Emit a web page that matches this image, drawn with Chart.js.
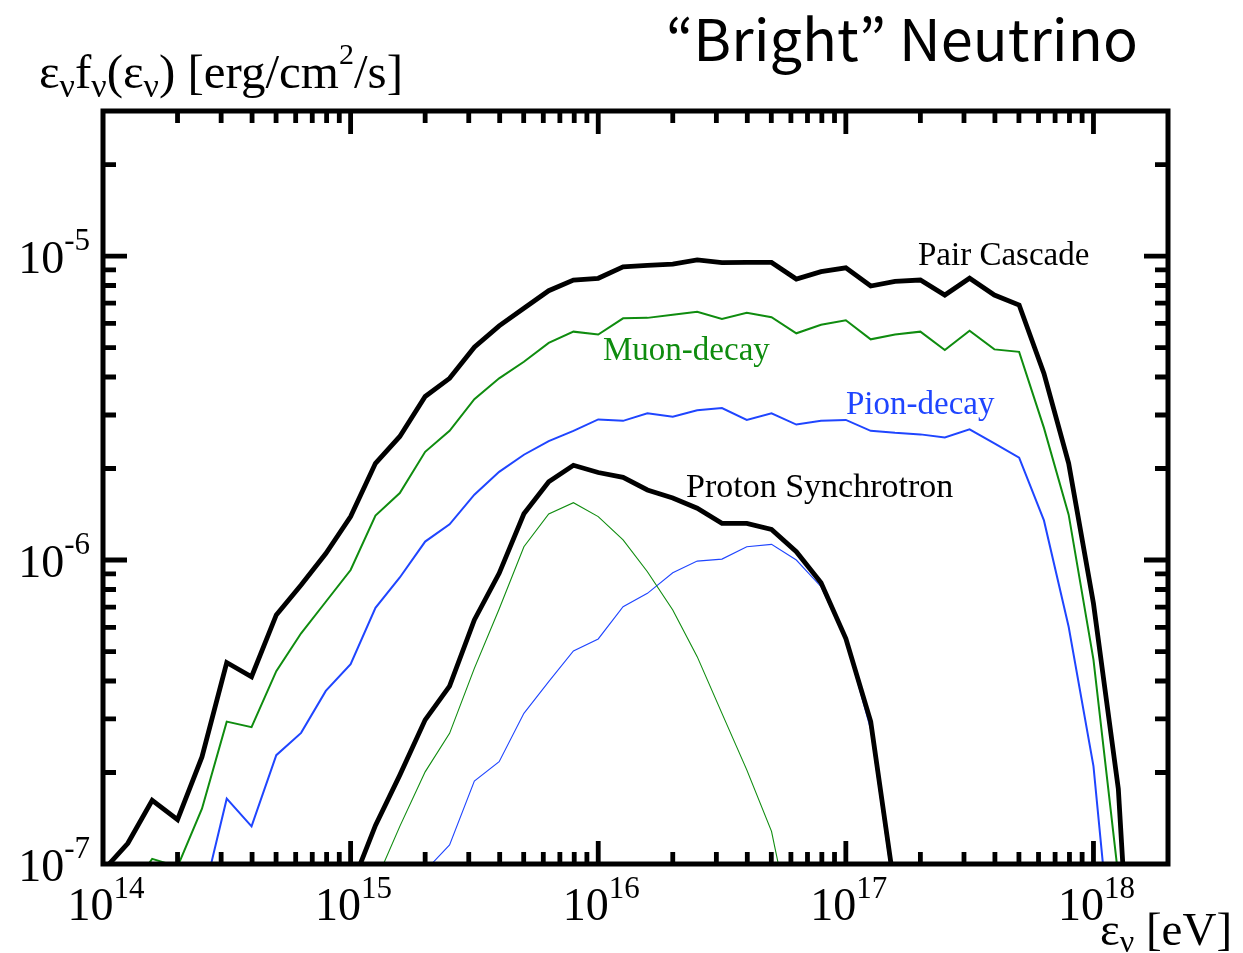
<!DOCTYPE html>
<html>
<head>
<meta charset="utf-8">
<script src="https://cdn.jsdelivr.net/npm/chart.js@4.4.1/dist/chart.umd.min.js"></script>
<style>
  html, body { margin: 0; padding: 0; background: #ffffff; }
  #wrap { position: relative; width: 1243px; height: 953px; }
</style>
</head>
<body>
<div id="wrap"><canvas id="c"></canvas></div>
<script>
// Neutrino energy grid [eV], 0.1-decade steps
const energy = [
  1.00e14, 1.26e14, 1.58e14, 2.00e14, 2.51e14, 3.16e14, 3.98e14, 5.01e14, 6.31e14, 7.94e14,
  1.00e15, 1.26e15, 1.58e15, 2.00e15, 2.51e15, 3.16e15, 3.98e15, 5.01e15, 6.31e15, 7.94e15,
  1.00e16, 1.26e16, 1.58e16, 2.00e16, 2.51e16, 3.16e16, 3.98e16, 5.01e16, 6.31e16, 7.94e16,
  1.00e17, 1.26e17, 1.58e17, 2.00e17, 2.51e17, 3.16e17, 3.98e17, 5.01e17, 6.31e17, 7.94e17,
  1.00e18, 1.26e18, 1.58e18
];

// Pair cascade total and its muon / pion decay parts [erg/cm^2/s]
const pairCascade = [
  9.5e-8, 1.17e-7, 1.62e-7, 1.40e-7, 2.25e-7, 4.6e-7, 4.13e-7, 6.6e-7, 8.27e-7, 1.05e-6,
  1.39e-6, 2.08e-6, 2.55e-6, 3.45e-6, 3.96e-6, 5.01e-6, 5.89e-6, 6.73e-6, 7.69e-6, 8.34e-6,
  8.45e-6, 9.22e-6, 9.32e-6, 9.41e-6, 9.71e-6, 9.51e-6, 9.53e-6, 9.53e-6, 8.40e-6, 8.88e-6,
  9.15e-6, 7.97e-6, 8.26e-6, 8.34e-6, 7.44e-6, 8.45e-6, 7.44e-6, 6.90e-6, 4.11e-6, 2.08e-6,
  7.2e-7, 1.77e-7, 8e-9
];
const muonDecay = [
  6e-8, 8e-8, 1.04e-7, 9.8e-8, 1.52e-7, 2.94e-7, 2.82e-7, 4.31e-7, 5.74e-7, 7.29e-7,
  9.27e-7, 1.40e-6, 1.66e-6, 2.27e-6, 2.66e-6, 3.38e-6, 3.96e-6, 4.49e-6, 5.18e-6, 5.64e-6,
  5.52e-6, 6.24e-6, 6.26e-6, 6.41e-6, 6.56e-6, 6.21e-6, 6.51e-6, 6.29e-6, 5.57e-6, 5.94e-6,
  6.15e-6, 5.32e-6, 5.52e-6, 5.64e-6, 4.91e-6, 5.68e-6, 4.93e-6, 4.84e-6, 2.72e-6, 1.41e-6,
  4.7e-7, 9.1e-8, null
];
const pionDecay = [
  3.5e-8, 3.7e-8, 5.8e-8, 4.2e-8, 7.5e-8, 1.64e-7, 1.33e-7, 2.28e-7, 2.70e-7, 3.71e-7,
  4.54e-7, 6.96e-7, 8.76e-7, 1.15e-6, 1.31e-6, 1.64e-6, 1.95e-6, 2.22e-6, 2.46e-6, 2.66e-6,
  2.90e-6, 2.87e-6, 3.04e-6, 2.96e-6, 3.11e-6, 3.16e-6, 2.89e-6, 3.04e-6, 2.79e-6, 2.87e-6,
  2.89e-6, 2.66e-6, 2.62e-6, 2.59e-6, 2.53e-6, 2.69e-6, 2.42e-6, 2.17e-6, 1.35e-6, 6.03e-7,
  2.1e-7, 3e-8, null
];

// Proton synchrotron total and its muon / pion decay parts (start index into energy grid)
const protonSyncStart = 10;
const protonSync = [
  8.3e-8, 1.34e-7, 1.96e-7, 2.98e-7, 3.85e-7, 6.35e-7, 9.04e-7, 1.42e-6, 1.81e-6, 2.05e-6,
  1.94e-6, 1.87e-6, 1.70e-6, 1.60e-6, 1.48e-6, 1.32e-6, 1.32e-6, 1.26e-6, 1.065e-6, 8.42e-7,
  5.52e-7, 2.94e-7, 8.1e-8
];
const protonMuonStart = 11;
const protonMuon = [
  8.7e-8, 1.33e-7, 2.01e-7, 2.69e-7, 4.4e-7, 6.9e-7, 1.106e-6, 1.417e-6, 1.544e-6, 1.389e-6,
  1.164e-6, 9.15e-7, 6.85e-7, 4.81e-7, 3.13e-7, 2.04e-7, 1.28e-7, 5.2e-8
];
const protonPionStart = 12;
const protonPion = [
  6e-8, 9.5e-8, 1.155e-7, 1.875e-7, 2.17e-7, 3.13e-7, 3.98e-7, 5.02e-7, 5.50e-7, 7.02e-7,
  7.77e-7, 9.08e-7, 9.92e-7, 1.007e-6, 1.106e-6, 1.126e-6, 1.0e-6, 8.17e-7, 5.45e-7, 2.76e-7,
  7.5e-8
];

// Axis ranges and labelled decades
const xRange = [1e14, 2e18];
const yRange = [1e-7, 3e-5];
const xMajorTicks = [1e14, 1e15, 1e16, 1e17, 1e18];
const xTickExponents = ['14', '15', '16', '17', '18'];
const yMajorTicks = [1e-7, 1e-6, 1e-5];
const yTickExponents = ['-7', '-6', '-5'];

const GREEN = '#0f8c0f';
const BLUE = '#1f45ff';
const SERIF = '"Liberation Serif", "Times New Roman", serif';
const HEADING_FONT = '"Noto Sans CJK JP", "Noto Sans", sans-serif';

function points(values, start) {
  const s = start || 0;
  return values.map((v, i) => ({ x: energy[s + i], y: v })).filter(p => p.y !== null);
}

function line(label, values, start, color, width) {
  return {
    label, data: points(values, start),
    borderColor: color, borderWidth: width,
    pointRadius: 0, tension: 0, fill: false,
    borderJoinStyle: 'miter', clip: 0
  };
}

// draw a run of text pieces: [text, fontPx, baselineShift]
function rich(ctx, parts, x, y, align) {
  let total = 0;
  const widths = parts.map(p => {
    ctx.font = p[1] + 'px ' + SERIF;
    const w = ctx.measureText(p[0]).width;
    total += w;
    return w;
  });
  let cx = align === 'center' ? x - total / 2 : align === 'right' ? x - total : x;
  ctx.textAlign = 'left';
  ctx.textBaseline = 'alphabetic';
  parts.forEach((p, i) => {
    ctx.font = p[1] + 'px ' + SERIF;
    ctx.fillText(p[0], cx, y + p[2]);
    cx += widths[i];
  });
}

function decadeTicks(min, max) {
  const out = [];
  for (let d = Math.floor(Math.log10(min)); d <= Math.ceil(Math.log10(max)); d++) {
    for (let m = 1; m <= 9; m++) {
      const v = m * Math.pow(10, d);
      if (v > min * 1.0001 && v < max * 0.9999) out.push({ v, major: m === 1 });
    }
  }
  return out;
}

const framePlugin = {
  id: 'frame',
  afterDatasetsDraw(chart) {
    const { ctx, chartArea: a, scales } = chart;
    const xs = scales.x, ys = scales.y;
    ctx.save();
    ctx.strokeStyle = '#000';
    ctx.lineCap = 'butt';
    ctx.lineWidth = 4.8;
    ctx.beginPath();
    decadeTicks(xRange[0], xRange[1]).forEach(t => {
      const px = xs.getPixelForValue(t.v);
      const len = t.major ? 23 : 12;
      ctx.moveTo(px, a.bottom); ctx.lineTo(px, a.bottom - len);
      ctx.moveTo(px, a.top); ctx.lineTo(px, a.top + len);
    });
    decadeTicks(yRange[0], yRange[1]).forEach(t => {
      const py = ys.getPixelForValue(t.v);
      const len = t.major ? 24 : 13;
      ctx.moveTo(a.left, py); ctx.lineTo(a.left + len, py);
      ctx.moveTo(a.right, py); ctx.lineTo(a.right - len, py);
    });
    ctx.stroke();
    ctx.lineWidth = 5;
    ctx.lineJoin = 'miter';
    ctx.strokeRect(a.left, a.top, a.right - a.left, a.bottom - a.top);
    ctx.restore();
  },
  afterDraw(chart) {
    const { ctx, scales } = chart;
    const xs = scales.x, ys = scales.y;
    ctx.save();
    ctx.fillStyle = '#000';

    // tick labels
    xMajorTicks.forEach((v, i) => {
      rich(ctx, [['10', 46, 0], [xTickExponents[i], 31, -22]], xs.getPixelForValue(v) + 3, 920, 'center');
    });
    yMajorTicks.forEach((v, i) => {
      const py = ys.getPixelForValue(v);
      rich(ctx, [['10', 46, 0], [yTickExponents[i], 31, -23]], 90, py + 16.5, 'right');
    });

    // axis titles
    rich(ctx, [
      ['ε', 49, 0], ['ν', 34, 9], ['f', 49, 0], ['ν', 34, 9], ['(ε', 49, 0], ['ν', 34, 9],
      [') [erg/cm', 49, 0], ['2', 30, -24], ['/s]', 49, 0]
    ], 39, 88, 'left');
    rich(ctx, [['ε', 47, 0], ['ν', 32, 7], [' [eV]', 47, 0]], 1100, 945, 'left');

    // curve labels
    ctx.fillStyle = '#000';
    rich(ctx, [['Pair Cascade', 33, 0]], 918, 265, 'left');
    rich(ctx, [['Proton Synchrotron', 34, 0]], 686, 497, 'left');
    ctx.fillStyle = GREEN;
    rich(ctx, [['Muon-decay', 33, 0]], 603, 360, 'left');
    ctx.fillStyle = BLUE;
    rich(ctx, [['Pion-decay', 33, 0]], 846, 414, 'left');

    // heading, sized so that its ink spans 669..1135
    ctx.fillStyle = '#000';
    const heading = '“Bright” Neutrino';
    ctx.textAlign = 'left';
    ctx.textBaseline = 'alphabetic';
    ctx.font = '52px ' + HEADING_FONT;
    let m = ctx.measureText(heading);
    const size = 52 * 466 / (m.actualBoundingBoxLeft + m.actualBoundingBoxRight);
    ctx.font = size.toFixed(1) + 'px ' + HEADING_FONT;
    m = ctx.measureText(heading);
    ctx.fillText(heading, 669 + m.actualBoundingBoxLeft, 61);
    ctx.restore();
  }
};

new Chart(document.getElementById('c'), {
  type: 'line',
  data: {
    datasets: [
      line('Pair Cascade', pairCascade, 0, '#000000', 4.8),
      line('Proton Synchrotron', protonSync, protonSyncStart, '#000000', 4.8),
      line('Muon-decay', muonDecay, 0, GREEN, 2),
      line('Pion-decay', pionDecay, 0, BLUE, 2),
      line('Proton Synchrotron (muon)', protonMuon, protonMuonStart, GREEN, 1.1),
      line('Proton Synchrotron (pion)', protonPion, protonPionStart, BLUE, 1.1)
    ]
  },
  options: {
    responsive: true,
    maintainAspectRatio: false,
    animation: false,
    events: [],
    layout: { padding: { left: 103, right: 75, top: 111, bottom: 89 } },
    scales: {
      x: { type: 'logarithmic', min: xRange[0], max: xRange[1], display: false },
      y: { type: 'logarithmic', min: yRange[0], max: yRange[1], display: false }
    },
    plugins: { legend: { display: false }, tooltip: { enabled: false } }
  },
  plugins: [framePlugin]
});
</script>
</body>
</html>
